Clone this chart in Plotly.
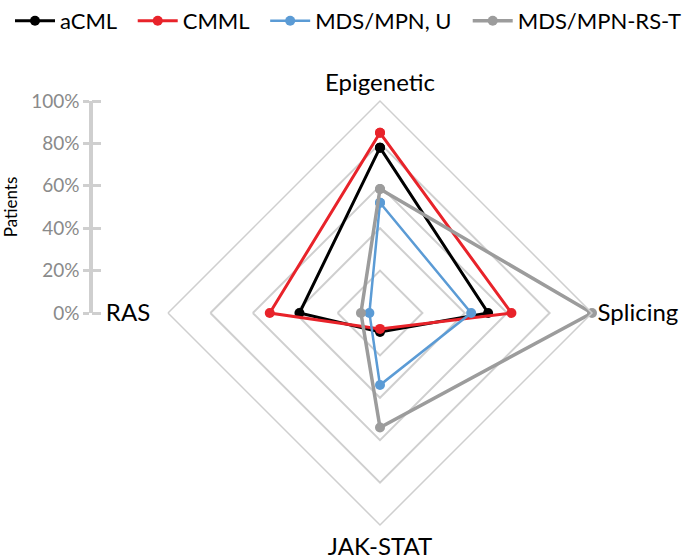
import plotly.graph_objects as go

categories = ["Epigenetic", "Splicing", "JAK-STAT", "RAS"]
category_labels = ["Epigenetic", "Splicing", "JAK-STAT", "RAS\u00a0\u00a0"]
series_names = ["aCML", "CMML", "MDS/MPN, U", "MDS/MPN-RS-T"]
acml = [78, 51, 9, 38]
cmml = [85, 62, 7.5, 52]
mds_u = [52, 43, 34, 5]
mds_rst = [58.5, 100, 54, 9]
radial_ticks = [0, 20, 40, 60, 80, 100]
radial_ticktext = ["0%", "20%", "40%", "60%", "80%", "100%"]

colors = ["#000000", "#E8232A", "#5B9BD5", "#9C9C9C"]
widths = [3, 3, 2.5, 3.5]
FONT = "Lato"
PAD = "\u00a0\u00a0"

fig = go.Figure()
for i, (name, vals, c, w) in enumerate(zip(series_names, [acml, cmml, mds_u, mds_rst], colors, widths)):
    fig.add_trace(go.Scatterpolar(
        r=vals + vals[:1], theta=categories + categories[:1],
        name=name + (PAD if i < len(series_names) - 1 else ""),
        mode="lines+markers", line=dict(color=c, width=w),
        marker=dict(color=c, size=10), subplot="polar"))

# dummy traces to anchor the external radial scale axis
fig.add_trace(go.Scatter(x=[0], y=[0], mode="markers", marker=dict(opacity=0),
                         showlegend=False, hoverinfo="skip", xaxis="x", yaxis="y"))
fig.add_trace(go.Scatter(x=[0], y=[0], mode="markers", marker=dict(opacity=0),
                         showlegend=False, hoverinfo="skip", xaxis="x", yaxis="y2"))

grid = "#cfcfcf"
ydom = [242 / 555, 454 / 555]
fig.update_layout(
    width=699, height=555, margin=dict(l=0, r=0, t=0, b=0, autoexpand=False),
    paper_bgcolor="white", plot_bgcolor="white",
    font=dict(family=FONT, color="black"),
    showlegend=True,
    legend=dict(orientation="h", x=10 / 699, y=1.0, xanchor="left", yanchor="top",
                font=dict(size=22, family=FONT), tracegroupgap=0, itemwidth=40),
    polar=dict(
        domain=dict(x=[168 / 699, 592 / 699], y=[30 / 555, 454 / 555]),
        gridshape="linear", bgcolor="white",
        radialaxis=dict(range=[0, 100], tickvals=[20, 40, 60, 80, 100],
                        showticklabels=False, ticks="", showline=False,
                        gridcolor=grid, gridwidth=1.5),
        angularaxis=dict(rotation=90, direction="clockwise", showgrid=False,
                         tickmode="array", tickvals=categories, ticktext=category_labels,
                         showline=True, linecolor=grid, linewidth=1.5, ticks="",
                         tickfont=dict(size=24, color="black", family=FONT)),
    ),
    xaxis=dict(domain=[0, 0.01], visible=False, automargin=False),
    yaxis=dict(anchor="free", position=91 / 699, domain=ydom, range=[0, 100],
               automargin=False,
               tickvals=radial_ticks, ticktext=radial_ticktext,
               tickfont=dict(size=19, color="#8a8a8a", family=FONT),
               showline=True, linecolor=grid, linewidth=3.5,
               ticks="outside", ticklen=6, tickwidth=3, tickcolor=grid,
               showgrid=False, zeroline=False,
               title=dict(text="Patients", font=dict(size=17, color="black", family=FONT),
                          standoff=8)),
    yaxis2=dict(anchor="free", overlaying="y", side="right", position=91 / 699,
                automargin=False,
                domain=ydom, range=[0, 100], tickvals=radial_ticks,
                showticklabels=False, showline=False, ticks="outside", ticklen=9,
                tickwidth=3, tickcolor=grid, showgrid=False, zeroline=False),
)

fig.write_html("out.html", config={"displayModeBar": False},
               post_script="document.body.style.margin='0';document.body.style.overflow='hidden';")
